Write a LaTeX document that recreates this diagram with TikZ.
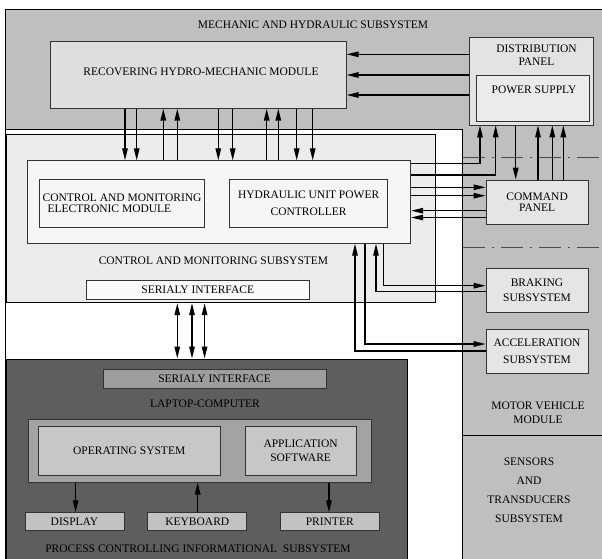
\documentclass[tikz,border=0pt]{standalone}
\usepackage{fontspec}
\setmainfont{Liberation Serif}
\usetikzlibrary{arrows.meta, fit, calc}

\definecolor{mechgray}{gray}{0.75}
\definecolor{modfill}{gray}{0.87}
\definecolor{distfill}{gray}{0.89}
\definecolor{powerfill}{gray}{0.92}
\definecolor{ctrlfill}{gray}{0.925}
\definecolor{corefill}{gray}{0.965}
\definecolor{serialfill}{gray}{0.98}
\definecolor{panelfill}{gray}{0.9}
\definecolor{laptopfill}{gray}{0.37}
\definecolor{serialBfill}{gray}{0.62}
\definecolor{lapcorefill}{gray}{0.64}
\definecolor{osfill}{gray}{0.78}
\definecolor{periphfill}{gray}{0.76}

\begin{document}
\begin{tikzpicture}[
    x=1pt, y=-1pt,
    font=\fontsize{11.5}{13}\selectfont,
    area/.style={rectangle, draw=black, line width=1pt, inner sep=0pt},
    box/.style={rectangle, draw=black!80, line width=0.8pt, inner sep=0pt},
    title/.style={inner sep=0pt, align=center},
    arrow/.style={-{Triangle[length=12pt,width=5.5pt]}, line width=1.3pt},
    biarrow/.style={{Triangle[length=12pt,width=5.5pt]}-{Triangle[length=12pt,width=5.5pt]}, line width=1.3pt},
    dashdot/.style={draw=black!70, line width=0.7pt, dash pattern=on 22pt off 7pt on 2pt off 7pt}
]
\useasboundingbox (0,0) rectangle (602,559);

% background areas
\node[area, fill=mechgray, fit={(5,9.3) (606,563)}] (mech) {};
\node[area, fill=white, fit={(5,129.3) (462.5,563)}] (lowzone) {};
\node[title] (mechtitle) at (313,25) {MECHANIC AND HYDRAULIC SUBSYSTEM};

% mechanic and hydraulic subsystem
\node[box, fill=modfill, fit={(50,41.7) (346.3,108.3)}] (module) {};
\node[title] (moduletitle) at (201,71.7) {RECOVERING HYDRO-MECHANIC MODULE};
\node[box, fill=distfill, fit={(469.3,37.5) (593,125)}] (dist) {};
\node[title] (disttitle) at (536.5,55) {DISTRIBUTION\\PANEL};
\node[box, fill=powerfill, fit={(476.7,75.7) (589.3,121.7)}] (power) {};
\node[title] (powertitle) at (534,90) {POWER SUPPLY};

% control and monitoring subsystem
\node[area, fill=ctrlfill, fit={(6.9,135) (435,302.7)}] (ctrl) {};
\node[box, fill=corefill, fit={(26.9,160.7) (410.7,243.3)}] (ctrlcore) {};
\node[box, fill=corefill, fit={(39.5,179) (204.6,227.3)},
    label={[title, align=left]center:CONTROL AND MONITORING\\[-2pt]\hspace*{5pt}ELECTRONIC MODULE}] (ecm) {};
\node[box, fill=corefill, fit={(229.6,179) (387.7,227.3)},
    label={[title]center:HYDRAULIC UNIT POWER\\[4pt]CONTROLLER}] (huc) {};
\node[title] (ctrltitle) at (213.5,261) {CONTROL AND MONITORING SUBSYSTEM};
\node[box, fill=serialfill, fit={(86.4,280) (309,299.3)},
    label={[title]center:SERIALY INTERFACE}] (serialA) {};

% motor vehicle module
\node[box, fill=panelfill, fit={(486,180) (588.3,224)},
    label={[title]center:COMMAND\\[-2pt]PANEL}] (cmd) {};
\node[box, fill=panelfill, fit={(486,268) (588,312.7)},
    label={[title]center:BRAKING\\[1.5pt]SUBSYSTEM}] (brake) {};
\node[box, fill=panelfill, fit={(486,329) (588,373)},
    label={[title]center:ACCELERATION\\[3.5pt]SUBSYSTEM}] (accel) {};
\node[title] (motortitle) at (538,413) {MOTOR VEHICLE\\[1pt]MODULE};
\node[title, font=\fontsize{11.5}{19}\selectfont] (sensortitle) at (529,490.6) {SENSORS\\AND\\TRANSDUCERS\\SUBSYSTEM};
\draw[dashdot] (lowzone.east |- 0,157.3) -- (mech.east |- 0,157.3);
\draw[dashdot] (lowzone.east |- 0,247.3) -- (mech.east |- 0,247.3);
\draw[line width=1pt] (lowzone.east |- 0,435.7) -- (mech.east |- 0,435.7);

% process controlling informational subsystem
\node[area, fill=laptopfill, fit={(6.9,359) (407,563)}] (laptop) {};
\node[box, fill=serialBfill, fit={(102.9,369) (326.3,388.3)},
    label={[title]center:SERIALY INTERFACE}] (serialB) {};
\node[title] (laptoptitle) at (205,403.3) {LAPTOP-COMPUTER};
\node[box, fill=lapcorefill, fit={(28.8,419.3) (371.2,482.3)}] (lapcore) {};
\node[box, fill=osfill, fit={(38.4,426) (220,475)},
    label={[title]center:OPERATING SYSTEM}] (os) {};
\node[box, fill=osfill, fit={(245,426) (356.2,475)},
    label={[title]center:APPLICATION\\[1pt]SOFTWARE}] (app) {};
\node[box, fill=periphfill, fit={(25,512.7) (124,530)},
    label={[title]center:DISPLAY}] (display) {};
\node[box, fill=periphfill, fit={(147.8,512.7) (246.8,530)},
    label={[title]center:KEYBOARD}] (keyboard) {};
\node[box, fill=periphfill, fit={(280.2,512.7) (379.3,530)},
    label={[title]center:PRINTER}] (printer) {};
\node[title] (pcistitle) at (198,548.3) {PROCESS CONTROLLING INFORMATIONAL~~SUBSYSTEM};

% module <-> controller
\foreach \x in {125,136.7,218.3,232.7,296.7,312.7}
    \draw[arrow] (module.south -| \x,0) -- (ctrlcore.north -| \x,0);
\foreach \x in {163.3,177.3,266.7,278.3}
    \draw[arrow] (ctrlcore.north -| \x,0) -- (module.south -| \x,0);

% distribution panel
\foreach \y in {54.3,75,95}
    \draw[arrow] (dist.west |- 0,\y) -- (module.east |- 0,\y);
\draw[arrow] (ctrlcore.east |- 0,163.3) -| (dist.south -| 480,0);
\draw[arrow] (ctrlcore.east |- 0,175) -| (dist.south -| 495.7,0);
\draw[arrow] (dist.south -| 515.7,0) -- (cmd.north -| 515.7,0);
\foreach \x in {538,552.3,563.3}
    \draw[arrow] (cmd.north -| \x,0) -- (dist.south -| \x,0);

% command panel
\foreach \y in {187.3,195.7}
    \draw[arrow] (ctrlcore.east |- 0,\y) -- (cmd.west |- 0,\y);
\foreach \y in {210.7,217.5}
    \draw[arrow] (cmd.west |- 0,\y) -- (ctrlcore.east |- 0,\y);

% braking and acceleration
\draw[arrow] (ctrlcore.south -| 383.3,0) |- (brake.west |- 0,285.7);
\draw[arrow] (brake.west |- 0,291.7) -| (ctrlcore.south -| 376,0);
\draw[arrow] (ctrlcore.south -| 365,0) |- (accel.west |- 0,344);
\draw[arrow] (accel.west |- 0,351) -| (ctrlcore.south -| 355,0);

% serial link
\foreach \x in {177.3,192,204.6}
    \draw[biarrow] (ctrl.south -| \x,0) -- (laptop.north -| \x,0);

% peripherals
\draw[arrow] (lapcore.south -| 75.6,0) -- (display.north -| 75.6,0);
\draw[arrow] (keyboard.north -| 197.7,0) -- (lapcore.south -| 197.7,0);
\draw[arrow] (lapcore.south -| 329,0) -- (printer.north -| 329,0);
\end{tikzpicture}
\end{document}
